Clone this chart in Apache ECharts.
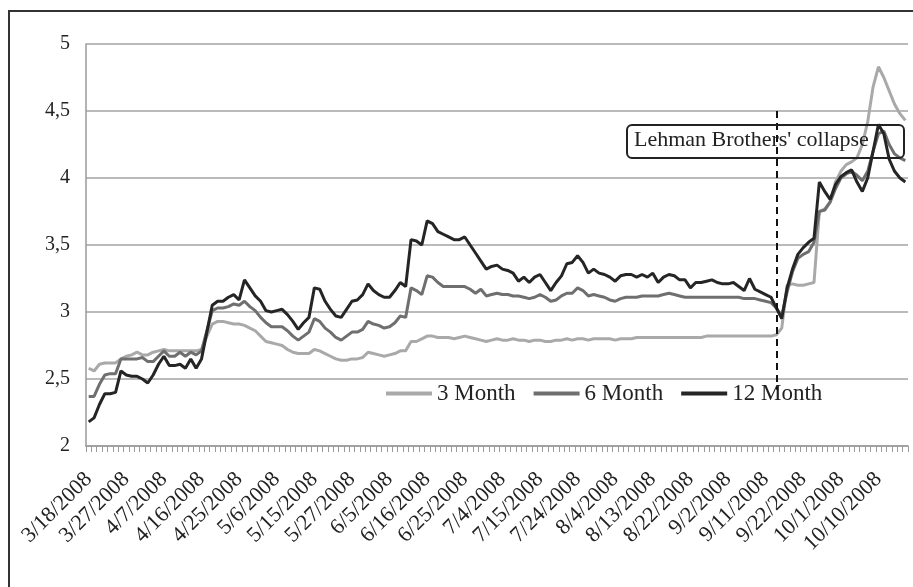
<!DOCTYPE html>
<html>
<head>
<meta charset="utf-8">
<script src="https://cdn.jsdelivr.net/npm/echarts@6/dist/echarts.min.js"></script>
<style>
	html, body { margin: 0; padding: 0; background: #fff; }
	#chart { width: 913px; height: 587px; }
</style>
</head>
<body>
<div id="chart"></div>
<script>
	// business days 3/18/2008 .. 10/17/2008 (Memorial day missing in the source)
	const firstDay = '2008-03-18'
	const lastDay = '2008-10-17'
	const skippedDays = ['2008-05-26']
	const eventDay = '9/15/2008'

	const seriesNames = ['3 Month', '6 Month', '12 Month']
	const yTicks = [2, 2.5, 3, 3.5, 4, 4.5, 5]

	const threeMonth = [
		2.58, 2.56, 2.61, 2.62, 2.62, 2.62, 2.65, 2.67, 2.68, 2.70,
		2.68, 2.68, 2.70, 2.71, 2.72, 2.71, 2.71, 2.71, 2.71, 2.71,
		2.71, 2.72, 2.82, 2.91, 2.93, 2.93, 2.92, 2.91, 2.91, 2.90,
		2.88, 2.86, 2.82, 2.78, 2.77, 2.76, 2.75, 2.72, 2.70, 2.69,
		2.69, 2.69, 2.72, 2.71, 2.69, 2.67, 2.65, 2.64, 2.64, 2.65,
		2.65, 2.66, 2.70, 2.69, 2.68, 2.67, 2.68, 2.69, 2.71, 2.71,
		2.78, 2.78, 2.80, 2.82, 2.82, 2.81, 2.81, 2.81, 2.80, 2.81,
		2.82, 2.81, 2.80, 2.79, 2.78, 2.79, 2.80, 2.79, 2.79, 2.80,
		2.79, 2.79, 2.78, 2.79, 2.79, 2.78, 2.78, 2.79, 2.79, 2.80,
		2.79, 2.80, 2.80, 2.79, 2.80, 2.80, 2.80, 2.80, 2.79, 2.80,
		2.80, 2.80, 2.81, 2.81, 2.81, 2.81, 2.81, 2.81, 2.81, 2.81,
		2.81, 2.81, 2.81, 2.81, 2.81, 2.82, 2.82, 2.82, 2.82, 2.82,
		2.82, 2.82, 2.82, 2.82, 2.82, 2.82, 2.82, 2.82, 2.83, 2.88,
		3.20, 3.21, 3.20, 3.20, 3.21, 3.22, 3.75, 3.77, 3.82, 3.97,
		4.05, 4.10, 4.12, 4.15, 4.25, 4.42, 4.68, 4.83, 4.75, 4.65,
		4.55, 4.48, 4.43
	]
	const sixMonth = [
		2.37, 2.37, 2.46, 2.53, 2.54, 2.54, 2.65, 2.65, 2.65, 2.65,
		2.66, 2.63, 2.63, 2.67, 2.71, 2.67, 2.67, 2.70, 2.67, 2.70,
		2.68, 2.71, 2.86, 3.01, 3.03, 3.03, 3.04, 3.06, 3.05, 3.08,
		3.04, 3.01, 2.96, 2.92, 2.89, 2.89, 2.89, 2.86, 2.82, 2.79,
		2.82, 2.85, 2.95, 2.93, 2.88, 2.85, 2.81, 2.79, 2.82, 2.85,
		2.85, 2.87, 2.93, 2.91, 2.90, 2.88, 2.89, 2.92, 2.97, 2.96,
		3.18, 3.16, 3.13, 3.27, 3.26, 3.22, 3.19, 3.19, 3.19, 3.19,
		3.19, 3.17, 3.14, 3.17, 3.12, 3.13, 3.14, 3.13, 3.13, 3.12,
		3.12, 3.11, 3.10, 3.11, 3.13, 3.11, 3.08, 3.09, 3.12, 3.14,
		3.14, 3.18, 3.16, 3.12, 3.13, 3.12, 3.11, 3.09, 3.08, 3.10,
		3.11, 3.11, 3.11, 3.12, 3.12, 3.12, 3.12, 3.13, 3.14, 3.13,
		3.12, 3.11, 3.11, 3.11, 3.11, 3.11, 3.11, 3.11, 3.11, 3.11,
		3.11, 3.11, 3.10, 3.10, 3.10, 3.09, 3.08, 3.07, 3.03, 2.97,
		3.15, 3.30, 3.40, 3.43, 3.45, 3.52, 3.75, 3.76, 3.82, 3.92,
		4.00, 4.03, 4.05, 4.02, 3.98, 4.05, 4.20, 4.33, 4.35, 4.25,
		4.18, 4.15, 4.13
	]
	const twelveMonth = [
		2.18, 2.21, 2.31, 2.39, 2.39, 2.40, 2.56, 2.53, 2.52, 2.52,
		2.50, 2.47, 2.53, 2.61, 2.67, 2.60, 2.60, 2.61, 2.58, 2.65,
		2.58, 2.65, 2.85, 3.05, 3.08, 3.08, 3.11, 3.13, 3.09, 3.24,
		3.18, 3.12, 3.08, 3.01, 3.00, 3.01, 3.02, 2.98, 2.93, 2.87,
		2.92, 2.96, 3.18, 3.17, 3.08, 3.02, 2.97, 2.96, 3.02, 3.08,
		3.09, 3.13, 3.21, 3.16, 3.13, 3.11, 3.11, 3.16, 3.22, 3.19,
		3.54, 3.53, 3.50, 3.68, 3.66, 3.60, 3.58, 3.56, 3.54, 3.54,
		3.56, 3.50, 3.44, 3.38, 3.32, 3.34, 3.35, 3.32, 3.31, 3.29,
		3.23, 3.26, 3.22, 3.26, 3.28, 3.22, 3.16, 3.22, 3.27, 3.36,
		3.37, 3.42, 3.37, 3.29, 3.32, 3.29, 3.28, 3.26, 3.23, 3.27,
		3.28, 3.28, 3.26, 3.28, 3.26, 3.29, 3.22, 3.26, 3.28, 3.27,
		3.24, 3.24, 3.18, 3.22, 3.22, 3.23, 3.24, 3.22, 3.21, 3.21,
		3.22, 3.19, 3.16, 3.25, 3.17, 3.15, 3.13, 3.11, 3.03, 2.95,
		3.18, 3.32, 3.43, 3.48, 3.52, 3.55, 3.97, 3.90, 3.84, 3.95,
		4.01, 4.04, 4.06, 3.97, 3.90, 4.00, 4.20, 4.40, 4.33, 4.14,
		4.05, 4.00, 3.97
	]

	const buildDates = () => {
		let out = []
		let d = new Date(firstDay + 'T00:00:00Z')
		const end = new Date(lastDay + 'T00:00:00Z')
		while (d <= end) {
			const iso = d.toISOString().slice(0, 10)
			const wd = d.getUTCDay()
			if (wd !== 0 && wd !== 6 && skippedDays.indexOf(iso) < 0) {
				out.push(d.getUTCMonth() + 1 + '/' + d.getUTCDate() + '/' + d.getUTCFullYear())
			}
			d = new Date(d.getTime() + 86400000)
		}
		return out
	}
	const dates = buildDates()

	const serif = 'Liberation Serif'
	const colors = ['#a9a9a9', '#6f6f6f', '#252525']

	const myCharts = echarts.init(document.getElementById('chart'))
	var option

	option = {
		backgroundColor: '#fff',
		animation: false,
		color: colors,
		grid: {
			left: 86,
			right: 5,
			top: 44,
			bottom: 141
		},
		legend: {
			data: seriesNames,
			left: 381,
			top: 377,
			icon: 'rect',
			itemWidth: 46,
			itemHeight: 4,
			itemGap: 18,
			textStyle: {
				fontFamily: serif,
				fontSize: 23,
				color: '#222'
			}
		},
		xAxis: {
			type: 'category',
			data: dates,
			boundaryGap: true,
			axisLine: {
				lineStyle: { color: '#9a9a9a', width: 1.5 }
			},
			axisTick: {
				show: true,
				interval: 0,
				length: 6,
				lineStyle: { color: '#9a9a9a' }
			},
			axisLabel: {
				interval: 6,
				rotate: 45,
				margin: 30,
				fontFamily: serif,
				fontSize: 22,
				color: '#222'
			}
		},
		yAxis: {
			type: 'value',
			min: yTicks[0],
			max: yTicks[yTicks.length - 1],
			interval: 0.5,
			axisLine: {
				show: true,
				lineStyle: { color: '#9a9a9a', width: 1.5 }
			},
			axisTick: { show: false },
			axisLabel: {
				margin: 16,
				fontFamily: serif,
				fontSize: 20,
				color: '#222',
				formatter: (v) => String(v).replace('.', ',')
			},
			splitLine: {
				lineStyle: { color: '#a3a3a3', width: 1.5 }
			}
		},
		series: [
			{
				name: seriesNames[0],
				type: 'line',
				data: threeMonth,
				showSymbol: false,
				lineStyle: { width: 3 }
			},
			{
				name: seriesNames[1],
				type: 'line',
				data: sixMonth,
				showSymbol: false,
				lineStyle: { width: 3 }
			},
			{
				name: seriesNames[2],
				type: 'line',
				data: twelveMonth,
				showSymbol: false,
				lineStyle: { width: 3 },
				markLine: {
					silent: true,
					symbol: 'none',
					label: { show: false },
					lineStyle: { color: '#111', type: [7, 5], width: 2 },
					data: [[{ coord: [eventDay, 4.5] }, { coord: [eventDay, 2.42] }]]
				}
			}
		],
		graphic: [
			{
				type: 'rect',
				shape: { x: 9, y: 11, width: 1000, height: 1000 },
				style: { fill: 'none', stroke: '#333', lineWidth: 2 },
				z: 10
			},
			{
				type: 'rect',
				shape: { x: 627, y: 125, width: 277, height: 33, r: 5 },
				style: { fill: 'none', stroke: '#222', lineWidth: 2 },
				z: 10
			},
			{
				type: 'text',
				left: 634,
				top: 129,
				style: {
					text: "Lehman Brothers' collapse",
					font: '22px "Liberation Serif"',
					fill: '#222'
				},
				z: 10
			}
		]
	}

	myCharts.setOption(option)
</script>
</body>
</html>
